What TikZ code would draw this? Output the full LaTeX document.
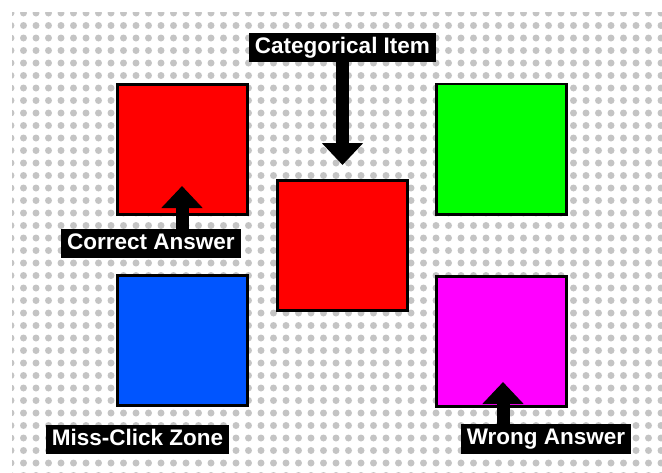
\documentclass[tikz,border=0pt]{standalone}
\usepackage{fontspec}
\setmainfont{Liberation Sans}
\usetikzlibrary{arrows.meta}
\definecolor{qzdot}{RGB}{196,196,196}
\definecolor{qzred}{RGB}{255,0,0}
\definecolor{qzgreen}{RGB}{0,255,0}
\definecolor{qzblue}{RGB}{0,85,255}
\definecolor{qzmagenta}{RGB}{255,0,255}
\tikzset{
  qzbox/.style={draw=black, line width=2.7pt, minimum width=130.3pt, minimum height=130.3pt, inner sep=0pt},
  qzlabel/.style={fill=black, text=white, font=\fontsize{22.5}{26}\selectfont\bfseries, inner xsep=6pt, inner ysep=4.5pt, text height=16pt, text depth=4.5pt},
  qzarr/.style={-{Triangle[width=40pt,length=22pt]}, line width=13pt, draw=black}
}

\begin{document}
\begin{tikzpicture}[x=1pt, y=-1pt]
  \useasboundingbox (0,0) rectangle (662,472);
  % dotted ground
  \begin{scope}
    \clip (12,12) rectangle (662,472);
    \foreach \i in {0,...,52} {
      \foreach \j in {0,...,37} {
        \fill[qzdot] ({11+12.5*\i},{13+12.5*\j}) circle (3.5pt);
      }
    }
  \end{scope}
  % answer boxes
  \node[qzbox, fill=qzred] (redA) at (182.5,149.5) {};
  \node[qzbox, fill=qzgreen] (greenA) at (501.5,149) {};
  \node[qzbox, fill=qzred] (item) at (342.5,245.5) {};
  \node[qzbox, fill=qzblue] (blueA) at (182.5,340.5) {};
  \node[qzbox, fill=qzmagenta] (magA) at (501.5,341.5) {};
  % labels
  \node[qzlabel] (cat) at (342.5,47.5) {Categorical Item};
  \node[qzlabel] (corr) at (151,243.5) {Correct Answer};
  \node[qzlabel] (miss) at (137.5,439.5) {Miss-Click Zone};
  \node[qzlabel] (wrong) at (546,439) {Wrong Answer};
  % pointers
  \coordinate (tipcat) at (342.5,165);
  \coordinate (tipcorr) at (182,186);
  \coordinate (tipwrong) at (503,382);
  \draw[qzarr] (cat.south) -- (tipcat);
  \draw[qzarr] (corr.north -| tipcorr) -- (tipcorr);
  \draw[qzarr] (wrong.north -| tipwrong) -- (tipwrong);
\end{tikzpicture}
\end{document}
